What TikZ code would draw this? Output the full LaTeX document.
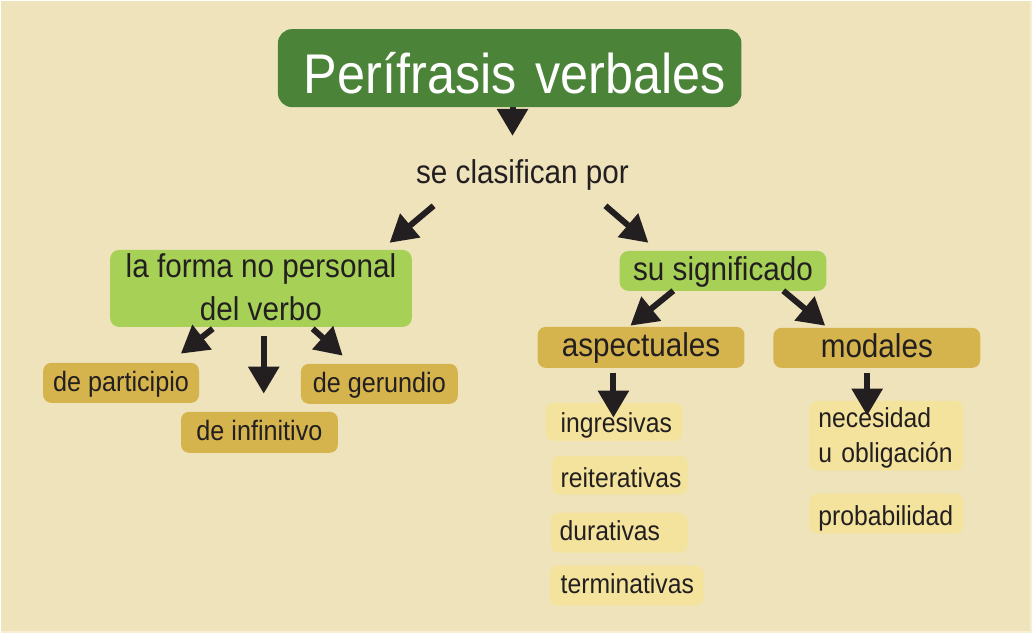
\documentclass[tikz,border=0pt]{standalone}
\usepackage{fontspec}
\setmainfont{Liberation Sans}[FakeStretch=0.9]
\usetikzlibrary{arrows.meta}
\definecolor{bgc}{HTML}{EFE3BC}
\definecolor{edgec}{HTML}{F6EFD6}
\definecolor{dgreen}{HTML}{4B8338}
\definecolor{lgreen}{HTML}{A6D156}
\definecolor{gold}{HTML}{D5B34D}
\definecolor{lyellow}{HTML}{F3E39C}
\definecolor{inkc}{HTML}{231F20}
\newcommand\mystrut[2]{\rule[-#2]{0pt}{\dimexpr#1+#2\relax}}
\tikzset{
  box/.style={anchor=north west, inner ysep=0pt, text=inkc},
  titlebox/.style={box, fill=dgreen, rounded corners=14pt, text=white, align=left,
    inner xsep=26pt, text width=412pt, font=\fontsize{56}{60}\selectfont},
  greenbox/.style={box, fill=lgreen, rounded corners=9pt, inner xsep=0pt, align=center,
    font=\fontsize{33}{43}\selectfont},
  goldbox/.style={box, fill=gold, rounded corners=8pt, inner xsep=0pt, align=center},
  lightbox/.style={box, fill=lyellow, rounded corners=8pt, align=left,
    font=\fontsize{27.5}{35}\selectfont},
  arr/.style={draw=inkc, line width=6pt, -{Triangle[width=30pt,length=27pt]}},
  bigf/.style={font=\fontsize{33}{40}\selectfont},
  smallf/.style={font=\fontsize{28}{34}\selectfont}
}
\begin{document}
\begin{tikzpicture}[x=1pt,y=-1pt]
\fill[bgc] (0,0) rectangle (1032,633);
\draw[edgec, line width=2pt] (1031,0) -- (1031,632) -- (0,632);
\useasboundingbox (0,0) rectangle (1032,633);

% arrow end points
\coordinate (a0s) at (512,100);  \coordinate (a0e) at (512,135);
\coordinate (a1s) at (433,205);  \coordinate (a1e) at (389,242);
\coordinate (a2s) at (605,205);  \coordinate (a2e) at (648,242);
\coordinate (a3s) at (212,328);  \coordinate (a3e) at (180,353);
\coordinate (a4s) at (263,335);  \coordinate (a4e) at (263,393);
\coordinate (a5s) at (312,328);  \coordinate (a5e) at (342,355);
\coordinate (a6s) at (673,290);  \coordinate (a6e) at (630,325);
\coordinate (a7s) at (783,290);  \coordinate (a7e) at (825,325);
\coordinate (a8s) at (613,372);  \coordinate (a8e) at (613,417);
\coordinate (a9s) at (867,372);  \coordinate (a9e) at (867,415);

\draw[arr] (a0s) -- (a0e);

% nodes
\node[titlebox] (title) at (277,28) {\mystrut{64pt}{14pt}\mbox{Perífrasis verbales}};
\node[anchor=base, text=inkc, bigf, inner sep=0pt] (clas) at (522,183) {se clasifican por};

\node[greenbox, minimum width=302pt] (forma) at (109,249)
  {\mystrut{28pt}{0pt}la forma no personal\\del verbo\mystrut{0pt}{6pt}};
\node[greenbox, minimum width=207pt] (signif) at (619,250) {\mystrut{30pt}{10pt}su significado};

\node[goldbox, bigf, minimum width=207pt] (aspect) at (537,326) {\mystrut{30pt}{11pt}aspectuales};
\node[goldbox, bigf, minimum width=207pt, inner xsep=0pt, text width=197pt] (modal) at (773,327) {\mystrut{30pt}{10pt}modales};

\node[goldbox, smallf, minimum width=156pt] (partic) at (42,362) {\mystrut{29pt}{11pt}de participio};
\node[goldbox, smallf, minimum width=157pt] (gerund) at (300,363) {\mystrut{29pt}{11pt}de gerundio};
\node[goldbox, smallf, minimum width=157pt] (infin) at (180,411) {\mystrut{29pt}{12pt}de infinitivo};

\node[lightbox, inner xsep=15pt, text width=107pt] (ingres) at (545,402) {\mystrut{29.7pt}{8.3pt}ingresivas};
\node[lightbox, inner xsep=9pt, text width=118pt] (reiter) at (551,455) {\mystrut{31.7pt}{7.3pt}reiterativas};
\node[lightbox, inner xsep=9pt, text width=119pt] (durat) at (550,512) {\mystrut{28pt}{12pt}durativas};
\node[lightbox, inner xsep=11pt, text width=132pt] (termin) at (549,565) {\mystrut{28pt}{12pt}terminativas};

\node[lightbox, inner xsep=9pt, text width=136pt] (neces) at (809,400)
  {\mystrut{26.7pt}{0pt}necesidad\\u obligación\mystrut{0pt}{8.3pt}};
\node[lightbox, inner xsep=9pt, text width=136pt] (probab) at (809,493) {\mystrut{32pt}{8pt}probabilidad};

\draw[arr] (a1s) -- (a1e);
\draw[arr] (a2s) -- (a2e);
\draw[arr] (a3s) -- (a3e);
\draw[arr] (a4s) -- (a4e);
\draw[arr] (a5s) -- (a5e);
\draw[arr] (a6s) -- (a6e);
\draw[arr] (a7s) -- (a7e);
\draw[arr] (a8s) -- (a8e);
\draw[arr] (a9s) -- (a9e);
\end{tikzpicture}
\end{document}
